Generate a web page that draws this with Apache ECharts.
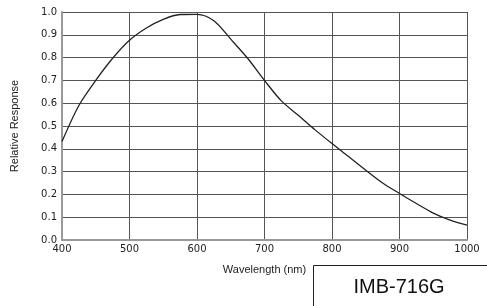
<!DOCTYPE html>
<html><head><meta charset="utf-8">
<script src="https://cdn.jsdelivr.net/npm/echarts@6/dist/echarts.min.js"></script>
<style>html,body{margin:0;padding:0;background:#fff}#c{width:487px;height:306px}</style>
</head><body><div id="c"></div>
<script>
const wavelengths = [400,425,450,475,500,525,550,575,600,625,650,675,700,725,750,775,800,825,850,875,900,925,950,975,1000];
const response = [0.432,0.59,0.70,0.797,0.876,0.93,0.968,0.989,0.99,0.962,0.881,0.797,0.70,0.61,0.547,0.483,0.423,0.365,0.306,0.25,0.204,0.16,0.118,0.087,0.065];
const xTicks = [400,500,600,700,800,900,1000];
const yTicks = [0,0.1,0.2,0.3,0.4,0.5,0.6,0.7,0.8,0.9,1.0];
const modelName = 'IMB-716G';

const chart = echarts.init(document.getElementById('c'), null, {renderer:'canvas'});
chart.setOption({
  animation:false,
  grid:{left:62,right:20,top:12,bottom:66},
  xAxis:{type:'value',min:400,max:1000,interval:100,
    name:'Wavelength (nm)',nameLocation:'middle',nameGap:24,
    nameTextStyle:{fontFamily:'Liberation Sans',fontSize:11,color:'#222'},
    axisLine:{lineStyle:{color:'#999',width:2}},
    axisTick:{show:false},
    axisLabel:{fontFamily:'DejaVu Sans',fontSize:10,color:'#222',margin:4,formatter:v=>String(v)},
    splitLine:{lineStyle:{color:'#555',width:1}}},
  yAxis:{type:'value',min:0,max:1,interval:0.1,
    name:'Relative Response',nameLocation:'middle',nameGap:42,
    nameTextStyle:{fontFamily:'Liberation Sans',fontSize:11,color:'#222'},
    axisLine:{show:true,lineStyle:{color:'#999',width:2}},
    axisTick:{show:false},
    axisLabel:{fontFamily:'DejaVu Sans',fontSize:10,color:'#222',margin:5,formatter:v=>v.toFixed(1)},
    splitLine:{lineStyle:{color:'#555',width:1}}},
  series:[{type:'line',smooth:0.3,symbol:'none',
    data:wavelengths.map((w,i)=>[w,response[i]]),
    lineStyle:{color:'#222',width:1.3}}],
  graphic:[
    {type:'rect',shape:{x:313.5,y:265.5,width:200,height:60},style:{fill:'#fff',stroke:'#222',lineWidth:1}},
    {type:'text',x:399,y:287,style:{text:modelName,font:'20px "Liberation Sans"',fill:'#111',align:'center',verticalAlign:'middle'}}
  ]
});
</script></body></html>
